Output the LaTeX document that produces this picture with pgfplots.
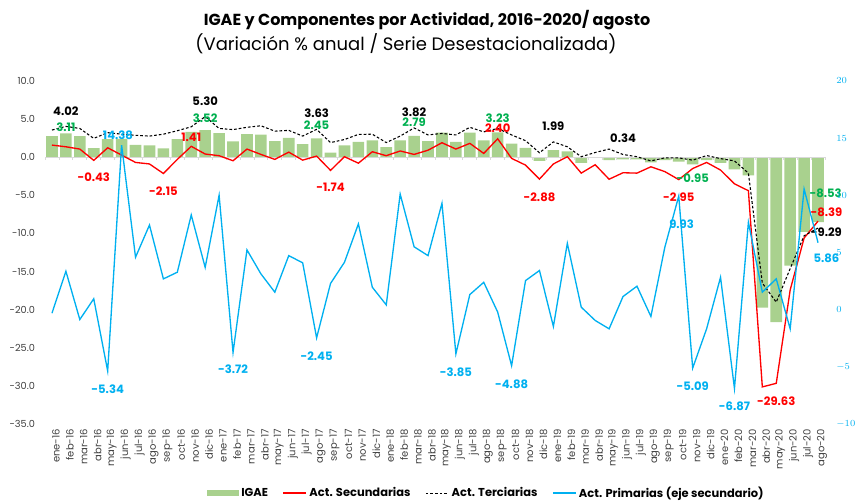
\documentclass[border=0pt]{standalone}
\usepackage{pgfplots}
\pgfplotsset{compat=1.18}
\usepackage{pgfplotstable}
\usepackage{fontspec}
\setmainfont{Poppins}
\definecolor{barg}{HTML}{A9D18E}
\definecolor{lblg}{HTML}{00B050}
\definecolor{pblue}{HTML}{00B0F0}
\definecolor{tickgray}{HTML}{404040}
\definecolor{zgray}{HTML}{D9D9D9}

\pgfplotstableread{
i igae sec ter pri
0 2.75 1.57 3.54 -0.3
1 3.11 1.35 4.02 3.37
2 2.75 1.05 3.75 -0.85
3 1.18 -0.43 2.45 0.96
4 2.35 1.22 3.2 -5.34
5 2.4 0.26 3.0 14.38
6 1.6 -0.7 2.85 4.59
7 1.53 -0.9 2.75 7.4
8 1.13 -2.15 3.0 2.7
9 2.35 -0.3 3.45 3.28
10 3.3 1.41 3.97 8.28
11 3.52 0.4 5.30 3.7
12 3.14 0.18 3.75 10.0
13 2.05 -0.48 3.6 -3.72
14 3.0 1.05 3.9 5.23
15 2.95 0.35 4.1 3.14
16 2.1 -0.3 3.4 1.54
17 2.5 0.65 3.5 4.73
18 1.7 -0.4 2.75 4.1
19 2.45 0.13 3.63 -2.45
20 0.6 -1.74 1.9 2.3
21 1.55 0.05 2.3 4.15
22 2.0 -0.8 2.97 7.5
23 2.2 0.7 3.0 1.97
24 1.3 0.18 1.9 0.43
25 2.2 0.8 2.75 10.1
26 2.79 0.35 3.82 5.5
27 2.1 0.9 2.9 4.73
28 3.2 1.88 3.1 9.3
29 2.0 1.05 2.9 -3.85
30 3.2 1.8 3.9 1.33
31 2.2 0.48 3.3 2.4
32 3.23 2.40 3.75 -0.2
33 1.75 -0.17 2.9 -4.88
34 1.2 -1.05 2.15 2.55
35 -0.5 -2.88 0.57 3.43
36 0.9 -0.9 1.99 -1.46
37 0.75 0.05 1.35 5.8
38 -0.75 -2.1 0.05 0.23
39 -0.1 -1.0 0.6 -0.93
40 -0.4 -2.9 1.05 -1.66
41 -0.3 -2.05 0.34 1.16
42 -0.3 -2.1 0.05 2.06
43 -0.7 -1.27 -0.5 -0.58
44 -0.4 -1.9 -0.1 5.46
45 -0.6 -2.95 -0.1 9.93
46 -0.95 -1.5 -0.4 -5.09
47 -0.4 -0.7 0.2 -1.66
48 -0.75 -1.7 -0.2 2.84
49 -1.6 -3.5 -0.5 -6.87
50 -2.4 -4.4 -2.1 7.64
51 -19.7 -30.1 -16.5 1.54
52 -21.6 -29.63 -19.0 2.7
53 -14.2 -17.4 -14.6 -1.66
54 -9.8 -10.6 -10.3 10.55
55 -8.53 -8.39 -9.29 5.86
}\datatable

\begin{document}
\begin{tikzpicture}
\useasboundingbox (0pt,0pt) rectangle (641.25pt,377.25pt);
\node[font=\bfseries\fontsize{12}{14}\selectfont] at (320.25pt,362.25pt) {IGAE y Componentes por Actividad, 2016-2020/ agosto};
\node[font=\fontsize{13.5}{15}\selectfont] at (304.5pt,344.25pt) {(Variación \% anual / Serie Desestacionalizada)};

\begin{axis}[
  at={(33.75pt,59.0pt)}, anchor=south west,
  width=585pt, height=257.7pt, scale only axis,
  xmin=-0.5, xmax=55.5, ymin=-35, ymax=10,
  clip=false,
  axis line style={draw=none},
  major tick length=0pt,
  tick style={draw=none},
  ytick={-35,-30,...,10},
  yticklabels={-35.0,-30.0,-25.0,-20.0,-15.0,-10.0,-5.0,0.0,5.0,10.0},
  yticklabel style={font=\fontsize{7.3}{8}\selectfont, color=tickgray, xshift=-4pt},
  xtick={0,...,55},
  xticklabels={ene-16,feb-16,mar-16,abr-16,may-16,jun-16,jul-16,ago-16,sep-16,oct-16,nov-16,dic-16,
    ene-17,feb-17,mar-17,abr-17,may-17,jun-17,jul-17,ago-17,sep-17,oct-17,nov-17,dic-17,
    ene-18,feb-18,mar-18,abr-18,may-18,jun-18,jul-18,ago-18,sep-18,oct-18,nov-18,dic-18,
    ene-19,feb-19,mar-19,abr-19,may-19,jun-19,jul-19,ago-19,sep-19,oct-19,nov-19,dic-19,
    ene-20,feb-20,mar-20,abr-20,may-20,jun-20,jul-20,ago-20},
  xticklabel style={rotate=90, anchor=east, font=\fontsize{7.5}{8}\selectfont, color=tickgray, yshift=-3pt},
  legend columns=-1,
  legend style={draw=none, fill=none, at={(0.566,-0.2)}, anchor=center,
    font=\bfseries\fontsize{8.6}{9}\selectfont,
    /tikz/every even column/.append style={column sep=9pt}},
]
\addplot[ybar, bar width=8.7pt, fill=barg, draw=none,
  legend image code/.code={\fill[barg] (0pt,-2pt) rectangle (24pt,2pt);}]
  table[x=i, y=igae] {\datatable};
\addlegendentry{IGAE}
\draw[zgray, line width=0.8pt] (axis cs:-0.5,0) -- (axis cs:55.5,0);
\pgfplotsinvokeforeach{-0.5,0.5,...,55.5}{\draw[zgray, line width=0.6pt] (axis cs:#1,0) -- ++(0pt,-2.5pt);}
\addplot[red, line width=1pt, mark=none] table[x=i, y=sec] {\datatable};
\addlegendentry{Act. Secundarias}
\addplot[black, line width=0.8pt, mark=none, dash pattern=on 2pt off 1.5pt] table[x=i, y=ter] {\datatable};
\addlegendentry{Act. Terciarias}
\addlegendimage{pblue, line width=1pt}
\addlegendentry{Act. Primarias (eje secundario)}

\begin{scope}[every node/.style={font=\bfseries\fontsize{8.7}{9}\selectfont}]
\node[lblg] at (axis cs:1,3.97) {3.11};
\node[lblg] at (axis cs:11,5.07) {3.52};
\node[lblg] at (axis cs:19,4.19) {2.45};
\node[lblg] at (axis cs:26,4.6) {2.79};
\node[lblg] at (axis cs:32,5.07) {3.23};
\node[lblg] at (axis cs:46,-2.8) {-0.95};
\node[lblg] at (axis cs:55.54,-4.76) {-8.53};
\node[black] at (axis cs:1,6.07) {4.02};
\node[black] at (axis cs:11,7.37) {5.30};
\node[black] at (axis cs:19,5.72) {3.63};
\node[black] at (axis cs:26,5.93) {3.82};
\node[black] at (axis cs:36,4.1) {1.99};
\node[black] at (axis cs:41,2.45) {0.34};
\node[black] at (axis cs:55.6,-9.86) {-9.29};
\node[red] at (axis cs:3,-2.66) {-0.43};
\node[red] at (axis cs:8,-4.41) {-2.15};
\node[red] at (axis cs:10,2.58) {1.41};
\node[red] at (axis cs:20,-3.97) {-1.74};
\node[red] at (axis cs:32,3.84) {2.40};
\node[red] at (axis cs:35,-5.2) {-2.88};
\node[red] at (axis cs:45,-5.2) {-2.95};
\node[red] at (axis cs:52,-31.96) {-29.63};
\node[red] at (axis cs:55.6,-7.16) {-8.39};
\end{scope}
\end{axis}

\begin{axis}[
  at={(33.75pt,59.0pt)}, anchor=south west,
  width=585pt, height=257.7pt, scale only axis,
  xmin=-0.5, xmax=55.5, ymin=-10, ymax=20,
  clip=false,
  axis line style={draw=none},
  major tick length=0pt,
  tick style={draw=none},
  hide x axis,
  axis y line*=right,
  ytick={-10,-5,...,20},
  yticklabel style={font=\fontsize{7.3}{8}\selectfont, color=pblue, anchor=west, xshift=5pt},
]
\addplot[pblue, line width=1pt, mark=none] table[x=i, y=pri] {\datatable};
\begin{scope}[every node/.style={font=\bfseries\fontsize{8.7}{9}\selectfont, text=pblue}]
\node at (axis cs:4.74,15.28) {14.38};
\node at (axis cs:4,-6.89) {-5.34};
\node at (axis cs:13,-5.23) {-3.72};
\node at (axis cs:19,-4.04) {-2.45};
\node at (axis cs:29,-5.44) {-3.85};
\node at (axis cs:33,-6.51) {-4.88};
\node at (axis cs:45.2,7.5) {9.93};
\node at (axis cs:46,-6.66) {-5.09};
\node at (axis cs:49,-8.43) {-6.87};
\node at (axis cs:55.6,4.53) {5.86};
\end{scope}
\end{axis}
\end{tikzpicture}
\end{document}
